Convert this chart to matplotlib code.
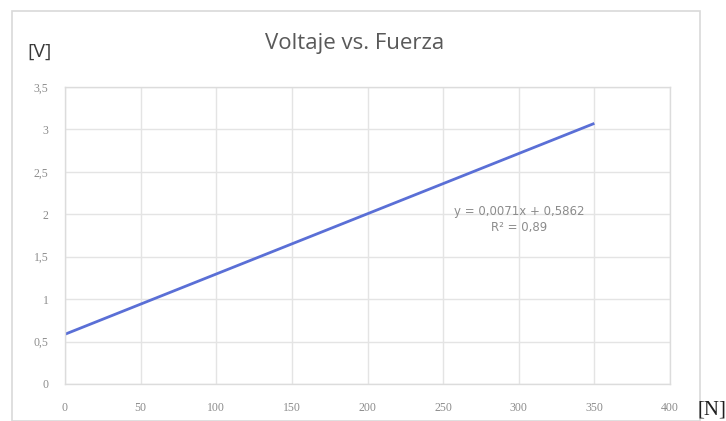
import matplotlib
matplotlib.use("Agg")
import matplotlib.pyplot as plt
from matplotlib.patches import Rectangle
import numpy as np

# linear fit of voltage against applied force
slope = 0.0071
intercept = 0.5862
r_squared = 0.89
force_range = [0, 350]

x_ticks = [0, 50, 100, 150, 200, 250, 300, 350, 400]
y_ticks = [0, 0.5, 1, 1.5, 2, 2.5, 3, 3.5]
y_labels = ["0", "0,5", "1", "1,5", "2", "2,5", "3", "3,5"]

W, H = 726, 421
fig = plt.figure(figsize=(W / 100, H / 100), dpi=100)
fig.patch.set_facecolor("white")

# outer chart frame
fig.patches.append(Rectangle((12 / W, 0.5 / H), (700 - 12) / W, (410 - 0.5) / H,
                             transform=fig.transFigure, fill=False,
                             edgecolor="#d9d9d9", linewidth=1.2))

ax = fig.add_axes([65 / W, 1 - 384 / H, (670 - 65) / W, (384 - 87) / H])
x = np.array(force_range, dtype=float)
ax.plot(x, slope * x + intercept, color="#5a6fd6", linewidth=2, solid_capstyle="butt")

ax.set_xlim(0, 400)
ax.set_ylim(0, 3.5)
ax.set_xticks(x_ticks)
ax.set_yticks(y_ticks)
ax.set_yticklabels(y_labels)
ax.grid(True, color="#e4e4e4", linewidth=1)
ax.set_axisbelow(True)
for s in ax.spines.values():
    s.set_color("#dcdcdc")
    s.set_linewidth(1)
ax.tick_params(length=0, labelsize=8.5, labelcolor="#8c8c8c")
ax.tick_params(axis="x", pad=13)
ax.tick_params(axis="y", pad=12)
for lbl in ax.get_xticklabels() + ax.get_yticklabels():
    lbl.set_fontfamily("Liberation Serif")

ax.text(519 / W, 1 - 212 / H, f"y = {slope}x + {intercept}".replace(".", ","),
        transform=fig.transFigure, ha="center", va="center",
        fontsize=8.5, color="#8c8c8c")
ax.text(519 / W, 1 - 228 / H, f"R² = {r_squared}".replace(".", ","),
        transform=fig.transFigure, ha="center", va="center",
        fontsize=8.5, color="#8c8c8c")

fig.text(355 / W, 1 - 43 / H, "Voltaje vs. Fuerza", ha="center", va="center",
         fontsize=16, color="#595959", family="Open Sans")
fig.text(40 / W, 1 - 52 / H, "[V]", ha="center", va="center",
         fontsize=14, color="#3a3a3a", family="Open Sans")
fig.text(712 / W, 1 - 410 / H, "[N]", ha="center", va="center",
         fontsize=15, color="#202020", family="Liberation Serif")

fig.savefig("out.png", dpi=100)
